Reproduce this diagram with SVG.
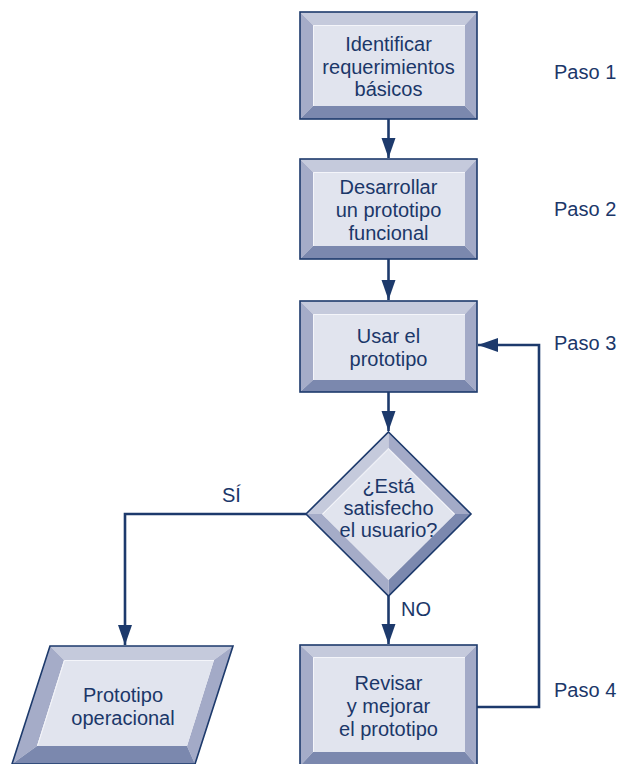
<svg xmlns="http://www.w3.org/2000/svg" width="618" height="764" viewBox="0 0 618 764">
<defs>
<style>
.txt{font-family:"Liberation Sans",Arial,sans-serif;font-size:20px;fill:#1b3769;text-anchor:middle}
.lbl{font-family:"Liberation Sans",Arial,sans-serif;font-size:20px;fill:#1b3769}
.out{fill:none;stroke:#1d3a6c;stroke-width:1.6}
.bt{fill:#c5cadc}.bl{fill:#a5acc8}.br{fill:#a3aac7}.bb{fill:#7b88ae}.face{fill:#e1e4ee}
.hl{fill:none;stroke:#f4f5fa;stroke-width:1}
.conn{fill:none;stroke:#1d3a6c;stroke-width:2.6}
</style>
<marker id="ah" markerUnits="userSpaceOnUse" markerWidth="22" markerHeight="16" refX="20" refY="7" orient="auto">
<path d="M0,0 L20,7 L0,14 Z" fill="#1d3a6c"/>
</marker>
</defs>
<rect width="618" height="764" fill="#ffffff"/>

<g id="connectors">
<line class="conn" x1="388.5" y1="119" x2="388.5" y2="158" marker-end="url(#ah)"/>
<line class="conn" x1="388.5" y1="259" x2="388.5" y2="300" marker-end="url(#ah)"/>
<line class="conn" x1="388.5" y1="392" x2="388.5" y2="431" marker-end="url(#ah)"/>
<line class="conn" x1="388.5" y1="596" x2="388.5" y2="644" marker-end="url(#ah)"/>
<polyline class="conn" points="306,514 125,514 125,645" marker-end="url(#ah)"/>
<polyline class="conn" points="477,707 539,707 539,345 478,345" marker-end="url(#ah)"/>
<text class="lbl" x="222" y="502">SÍ</text>
<text class="lbl" x="401" y="616">NO</text>
</g>

<g id="paso-labels">
<text class="lbl" x="554" y="79">Paso 1</text>
<text class="lbl" x="554" y="216">Paso 2</text>
<text class="lbl" x="554" y="350">Paso 3</text>
<text class="lbl" x="554" y="697">Paso 4</text>
</g>

<g id="node1">
<polygon class="bt" points="300,12 477,12 465,25 313,25"/>
<polygon class="bl" points="300,12 313,25 313,106 300,119"/>
<polygon class="br" points="477,12 477,119 465,106 465,25"/>
<polygon class="bb" points="300,119 313,106 465,106 477,119"/>
<rect class="face" x="313" y="25" width="152" height="81"/>
<polyline class="hl" points="313.5,106 313.5,25.5 465,25.5"/>
<rect class="out" x="300" y="12" width="177" height="107"/>
<text class="txt" x="388.5" y="51">Identificar</text>
<text class="txt" x="388.5" y="74">requerimientos</text>
<text class="txt" x="388.5" y="96">básicos</text>
</g>

<g id="node2">
<polygon class="bt" points="300,159 477,159 465,172 313,172"/>
<polygon class="bl" points="300,159 313,172 313,246 300,259"/>
<polygon class="br" points="477,159 477,259 465,246 465,172"/>
<polygon class="bb" points="300,259 313,246 465,246 477,259"/>
<rect class="face" x="313" y="172" width="152" height="74"/>
<polyline class="hl" points="313.5,246 313.5,172.5 465,172.5"/>
<rect class="out" x="300" y="159" width="177" height="100"/>
<text class="txt" x="388.5" y="194">Desarrollar</text>
<text class="txt" x="388.5" y="217">un prototipo</text>
<text class="txt" x="388.5" y="240">funcional</text>
</g>

<g id="node3">
<polygon class="bt" points="300,301 477,301 465,314 313,314"/>
<polygon class="bl" points="300,301 313,314 313,380 300,392"/>
<polygon class="br" points="477,301 477,392 465,380 465,314"/>
<polygon class="bb" points="300,392 313,380 465,380 477,392"/>
<rect class="face" x="313" y="314" width="152" height="66"/>
<polyline class="hl" points="313.5,380 313.5,314.5 465,314.5"/>
<rect class="out" x="300" y="301" width="177" height="91"/>
<text class="txt" x="388.5" y="343">Usar el</text>
<text class="txt" x="388.5" y="366">prototipo</text>
</g>

<g id="decision">
<polygon class="bt" points="388.5,432 306,514 322,514 388.5,448"/>
<polygon class="br" points="388.5,432 471,514 455,514 388.5,448"/>
<polygon class="bb" points="471,514 388.5,596 388.5,580 455,514"/>
<polygon class="bl" points="306,514 388.5,596 388.5,580 322,514"/>
<polygon class="face" points="388.5,448 455,514 388.5,580 322,514"/>
<polyline class="hl" points="323,514 388.5,449 454,514"/>
<polygon class="out" points="388.5,432 471,514 388.5,596 306,514"/>
<text class="txt" x="388.5" y="493">¿Está</text>
<text class="txt" x="388.5" y="515">satisfecho</text>
<text class="txt" x="388.5" y="537">el usuario?</text>
</g>

<g id="node4">
<polygon class="bt" points="300,645 477,645 465,657 313,657"/>
<polygon class="bl" points="300,645 313,657 313,752 300,766"/>
<polygon class="br" points="477,645 477,766 465,752 465,657"/>
<polygon class="bb" points="300,766 313,752 465,752 477,766"/>
<rect class="face" x="313" y="657" width="152" height="95"/>
<polyline class="hl" points="313.5,752 313.5,657.5 465,657.5"/>
<rect class="out" x="300" y="645" width="177" height="125"/>
<text class="txt" x="388.5" y="690">Revisar</text>
<text class="txt" x="388.5" y="713">y mejorar</text>
<text class="txt" x="388.5" y="736">el prototipo</text>
</g>

<g id="output">
<polygon class="bt" points="50,646 233,646 214,660 64,660"/>
<polygon class="bl" points="50,646 64,660 37,746 12,764"/>
<polygon class="br" points="233,646 195,764 187,746 214,660"/>
<polygon class="bb" points="12,764 37,746 187,746 195,764"/>
<polygon class="face" points="64,660 214,660 187,746 37,746"/>
<polyline class="hl" points="37.5,746 64.5,660.5 214,660.5"/>
<polygon class="out" points="50,646 233,646 195,764 12,764"/>
<text class="txt" x="123" y="702">Prototipo</text>
<text class="txt" x="123" y="725">operacional</text>
</g>
</svg>
